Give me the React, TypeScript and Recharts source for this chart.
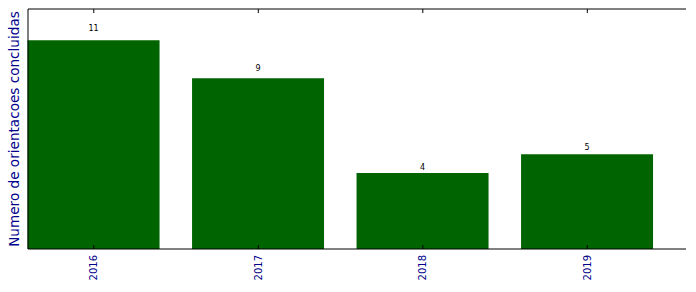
import React from 'react';
import { BarChart, Bar, XAxis, YAxis, LabelList } from 'recharts';

const years = ['2016', '2017', '2018', '2019'];
const concluidas = [11, 9, 4, 5];
const yLabel = 'Numero de orientacoes concluidas';

const data = years.map((year, i) => ({ idx: i, year, value: concluidas[i] }));
const tickPositions = years.map((_, i) => i);

const FONT = '"DejaVu Sans", sans-serif';
const BLUE = '#00008b';

const BottomTick = (props: any) => {
  const { x, y, payload } = props;
  return (
    <g>
      <line x1={x} y1={y} x2={x} y2={y - 4} stroke="#000" strokeWidth={1} />
      <text
        x={x}
        y={y + 6}
        transform={`rotate(-90, ${x}, ${y + 6})`}
        textAnchor="end"
        dy="0.35em"
        fontSize={10}
        fontFamily={FONT}
        fill={BLUE}
      >
        {years[payload.value]}
      </text>
    </g>
  );
};

const TopTick = (props: any) => {
  const { x, y } = props;
  return <line x1={x} y1={y} x2={x} y2={y + 4} stroke="#000" strokeWidth={1} />;
};

// label sits at 1.05 x the bar height, like the original text placement
const ValueLabel = (props: any) => {
  const { x, y, width, height, value } = props;
  const bottom = y - 0.05 * height;
  return (
    <text
      x={x + width / 2}
      y={bottom + 1}
      textAnchor="middle"
      fontSize={8}
      fontFamily={FONT}
      fill="#000"
    >
      {value}
    </text>
  );
};

const App = () => (
  <div style={{ position: 'absolute', left: 0, top: 0, background: '#fff' }}>
    <BarChart
      width={696}
      height={292}
      data={data}
      margin={{ top: 0, right: 10, bottom: 0, left: 0 }}
    >
      <XAxis
        xAxisId="bottom"
        dataKey="idx"
        type="number"
        domain={[-0.4, 3.6]}
        ticks={tickPositions}
        interval={0}
        height={43}
        tickSize={0}
        tickMargin={0}
        tickLine={false}
        tick={<BottomTick />}
        axisLine={{ stroke: '#000', strokeWidth: 1 }}
      />
      <XAxis
        xAxisId="top"
        orientation="top"
        dataKey="idx"
        type="number"
        domain={[-0.4, 3.6]}
        ticks={tickPositions}
        interval={0}
        height={9}
        tickSize={0}
        tickMargin={0}
        tickLine={false}
        tick={<TopTick />}
        axisLine={{ stroke: '#000', strokeWidth: 1 }}
      />
      <YAxis
        yAxisId="left"
        type="number"
        domain={[0, 12.65]}
        width={28}
        tick={false}
        tickLine={false}
        axisLine={{ stroke: '#000', strokeWidth: 1 }}
        label={{
          value: yLabel,
          angle: -90,
          position: 'center',
          fill: BLUE,
          fontSize: 13.6,
          fontFamily: FONT,
        }}
      />
      <YAxis
        yAxisId="right"
        orientation="right"
        type="number"
        domain={[0, 12.65]}
        width={0}
        tick={false}
        tickLine={false}
        axisLine={{ stroke: '#000', strokeWidth: 1 }}
      />
      <Bar
        xAxisId="bottom"
        yAxisId="left"
        dataKey="value"
        fill="#006400"
        barSize={132}
        isAnimationActive={false}
      >
        <LabelList dataKey="value" content={<ValueLabel />} />
      </Bar>
    </BarChart>
  </div>
);

export default App;
